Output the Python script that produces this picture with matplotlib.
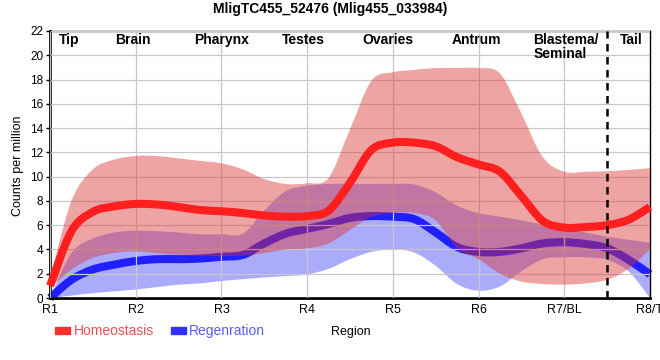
import matplotlib
matplotlib.use('Agg')
import matplotlib.pyplot as plt
from matplotlib.patches import Rectangle, PathPatch
from matplotlib.path import Path
import numpy as np

plt.rcParams['font.family'] = ['Liberation Sans', 'DejaVu Sans']

title = 'MligTC455_52476 (Mlig455_033984)'
regions = ['R1', 'R2', 'R3', 'R4', 'R5', 'R6', 'R7/BL', 'R8/T']
tissues = ['Tip', 'Brain', 'Pharynx', 'Testes', 'Ovaries', 'Antrum',
           'Blastema/\nSeminal', 'Tail']

# values read every quarter region, R1 .. R8
homeo_mean = [1.0, 5.5, 7.1, 7.55, 7.75, 7.7, 7.5, 7.25, 7.15, 7.0, 6.8, 6.7,
              6.75, 7.2, 9.5, 12.2, 12.8, 12.8, 12.5, 11.6, 11.0, 10.4, 8.4,
              6.35, 5.8, 5.85, 6.0, 6.45, 7.5]
homeo_hi = [1.6, 8.0, 10.6, 11.4, 11.7, 11.7, 11.5, 11.3, 11.1, 10.6, 9.8, 9.4,
            9.45, 9.9, 13.9, 17.9, 18.6, 18.8, 18.95, 18.95, 18.95, 18.5, 15.2,
            11.6, 10.4, 10.4, 10.45, 10.55, 10.7]
homeo_lo = [0.8, 2.35, 3.3, 3.7, 3.85, 3.7, 3.55, 3.45, 3.45, 3.5, 3.7, 4.0,
            4.1, 4.5, 5.6, 6.7, 7.0, 7.0, 6.4, 4.1, 3.2, 2.0, 1.35, 1.15, 1.1,
            1.2, 1.5, 2.4, 4.0]
regen_mean = [0.0, 1.5, 2.35, 2.75, 3.05, 3.2, 3.2, 3.25, 3.4, 3.55, 4.5, 5.3,
              5.7, 6.1, 6.6, 6.75, 6.7, 6.5, 5.4, 4.2, 3.8, 3.8, 4.1, 4.5, 4.6,
              4.45, 4.1, 3.15, 1.95]
regen_hi = [0.0, 3.7, 4.9, 5.4, 5.55, 5.5, 5.4, 5.25, 5.25, 5.3, 7.2, 8.8,
            9.25, 9.4, 9.4, 9.4, 9.4, 9.35, 8.7, 7.6, 7.0, 6.7, 6.4, 6.05, 5.7,
            5.4, 5.05, 4.8, 4.55]
regen_lo = [0.0, 0.2, 0.4, 0.55, 0.7, 0.9, 1.1, 1.2, 1.4, 1.55, 1.7, 1.8,
            1.95, 2.4, 3.2, 3.8, 4.0, 3.75, 2.65, 1.15, 0.6, 0.95, 2.2, 3.2,
            3.35, 3.35, 3.15, 2.2, 0.0]

pos = np.linspace(0, len(regions) - 1, len(homeo_mean))


def smooth_path(x, y, start=True):
    # catmull-rom through the points, drawn as cubic bezier segments
    p = np.column_stack([x, y])
    ext = np.vstack([p[0], p, p[-1]])
    verts = [p[0]] if start else []
    codes = [Path.MOVETO] if start else []
    for i in range(1, len(ext) - 2):
        p0, p1, p2, p3 = ext[i - 1], ext[i], ext[i + 1], ext[i + 2]
        verts += [p1 + (p2 - p0) / 6, p2 - (p3 - p1) / 6, p2]
        codes += [Path.CURVE4] * 3
    return verts, codes


def band(ax, lo, hi, color, alpha, z):
    v1, c1 = smooth_path(pos, hi)
    v2, c2 = smooth_path(pos[::-1], lo[::-1], start=False)
    verts = v1 + [np.array([pos[-1], lo[-1]])] + v2 + [v1[0]]
    codes = c1 + [Path.LINETO] + c2 + [Path.CLOSEPOLY]
    ax.add_patch(PathPatch(Path(verts, codes), facecolor=color, alpha=alpha,
                           lw=0, zorder=z))


def line(ax, y, color, z):
    v, c = smooth_path(pos, y)
    ax.add_patch(PathPatch(Path(v, c), facecolor='none', edgecolor=color,
                           lw=5.8, joinstyle='round', capstyle='butt',
                           zorder=z, clip_on=False))


fig = plt.figure(figsize=(6.6, 3.6), dpi=100, facecolor='w')
ax = fig.add_axes([0.0758, 0.1722, 0.909, 0.7417])

# Regeneration below, Homeostasis on top
band(ax, np.array(regen_lo), np.array(regen_hi), '#2e2ef5', 0.40, 1)
line(ax, regen_mean, '#1f1fff', 2)
band(ax, np.array(homeo_lo), np.array(homeo_hi), '#dc2e2e', 0.43, 3)
line(ax, homeo_mean, '#ff1f1f', 4)

ax.axvline(6.5, color='k', lw=1.8, ls=(0, (3, 2.2)), zorder=5)

ax.set_xlim(0, len(regions) - 1)
ax.set_ylim(0, 22)
ax.set_yticks(np.arange(0, 23, 2))
ax.set_xticks(range(len(regions)))
ax.set_xticklabels(regions, fontsize=9)
ax.tick_params(axis='y', labelsize=8.5, length=3, width=1, pad=2)
ax.tick_params(axis='x', length=0, pad=4)
ax.grid(True, color='#c8c8c8', lw=0.9)
ax.set_axisbelow(False)

for s in ['left', 'bottom']:
    ax.spines[s].set_linewidth(2)
for s in ['top', 'right']:
    ax.spines[s].set_linewidth(1)

# tissue labels along the top
label_x = [0.22, 0.97, 2.0, 2.96, 3.94, 4.98, 5.64, 6.78]
for lx, name in zip(label_x, tissues):
    ha = 'left' if name.startswith('Blastema') else 'center'
    ax.text(lx, 21.85, name, ha=ha, va='top', fontsize=10, fontweight='bold',
            linespacing=1.0, zorder=6)

fig.text(0.5, 0.975, title, ha='center', va='center', fontsize=10,
         fontweight='bold')
fig.text(0.027, 0.54, 'Counts per million', rotation=90, ha='center',
         va='center', fontsize=9)
fig.text(0.532, 0.078, 'Region', ha='center', va='center', fontsize=9)

# legend
fig.patches.append(Rectangle((55 / 660, 1 - 334 / 360), 15 / 660, 7.5 / 360,
                             transform=fig.transFigure, color='#ff3030'))
fig.text(74 / 660, 1 - 331 / 360, 'Homeostasis', color='#f24b55', fontsize=10,
         va='center', ha='left')
fig.patches.append(Rectangle((170.5 / 660, 1 - 334 / 360), 15 / 660, 7.5 / 360,
                             transform=fig.transFigure, color='#3030ff'))
fig.text(189 / 660, 1 - 331 / 360, 'Regenration', color='#5a5aff', fontsize=10,
         va='center', ha='left')

plt.savefig('out.png', dpi=100)
plt.close()
